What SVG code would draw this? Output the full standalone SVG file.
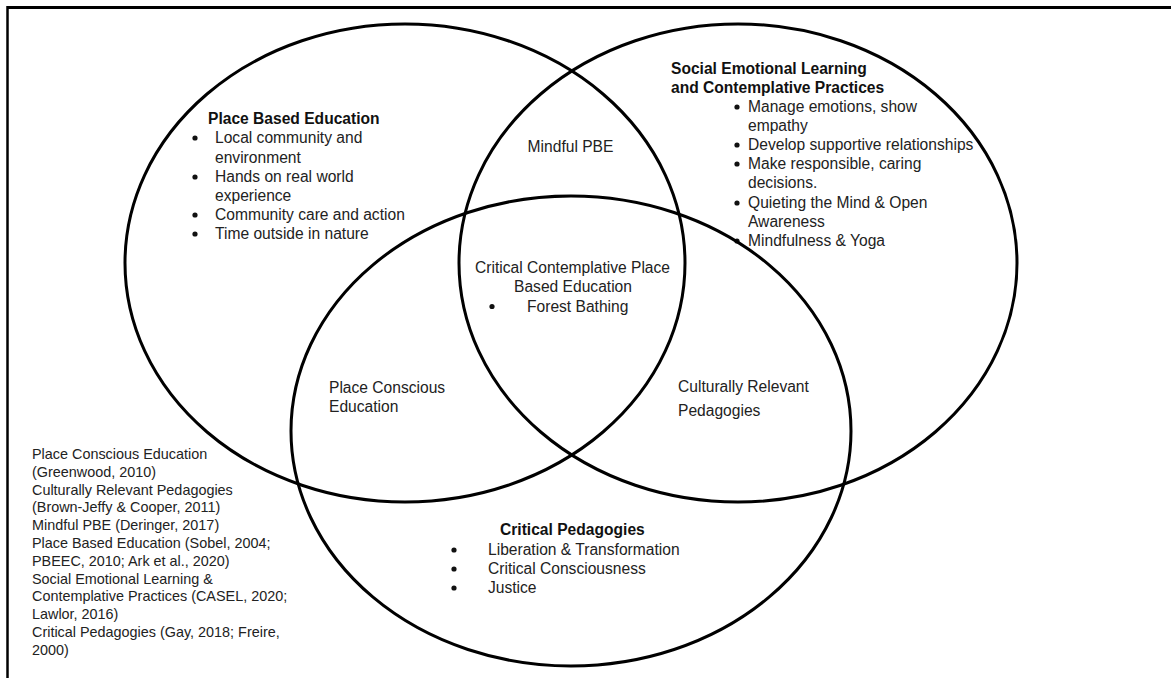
<svg xmlns="http://www.w3.org/2000/svg" width="1171" height="678" viewBox="0 0 1171 678">
<style>
.e{fill:none;stroke:#000;stroke-width:3}
.t{font-family:"Liberation Sans",Arial,sans-serif;font-size:15.6px;fill:#222}
.b{font-weight:bold;fill:#111}
.r{font-family:"Liberation Sans",Arial,sans-serif;font-size:14.4px;fill:#222}
.d{fill:#111}
</style>
<rect width="1171" height="678" fill="#fff"/>
<g id="frame">
<line x1="7" y1="7.5" x2="1171" y2="7.5" stroke="#000" stroke-width="3"/>
<line x1="7.5" y1="6" x2="7.5" y2="678" stroke="#000" stroke-width="2.5"/>
</g>
<g id="connectors"></g>
<g id="place-based">
<ellipse class="e" cx="405" cy="263" rx="280" ry="239"/>
<text class="t b" x="208" y="124">Place Based Education</text>
<circle class="d" cx="195" cy="138" r="2.6"/>
<text class="t" x="215" y="143">Local community and</text>
<text class="t" x="215" y="162.5">environment</text>
<circle class="d" cx="195" cy="177" r="2.6"/>
<text class="t" x="215" y="181.5">Hands on real world</text>
<text class="t" x="215" y="200.5">experience</text>
<circle class="d" cx="195" cy="215" r="2.6"/>
<text class="t" x="215" y="220">Community care and action</text>
<circle class="d" cx="195" cy="234" r="2.6"/>
<text class="t" x="215" y="238.5">Time outside in nature</text>
</g>
<g id="sel">
<ellipse class="e" cx="738" cy="263" rx="279" ry="239"/>
<text class="t b" x="671" y="73.5">Social Emotional Learning</text>
<text class="t b" x="671" y="92.5">and Contemplative Practices</text>
<circle class="d" cx="737" cy="107" r="2.6"/>
<text class="t" x="748" y="111.5">Manage emotions, show</text>
<text class="t" x="748" y="130.5">empathy</text>
<circle class="d" cx="737" cy="145" r="2.6"/>
<text class="t" x="748" y="150">Develop supportive relationships</text>
<circle class="d" cx="737" cy="164" r="2.6"/>
<text class="t" x="748" y="169">Make responsible, caring</text>
<text class="t" x="748" y="188">decisions.</text>
<circle class="d" cx="737" cy="203" r="2.6"/>
<text class="t" x="748" y="207.5">Quieting the Mind &amp; Open</text>
<text class="t" x="748" y="226.5">Awareness</text>
<circle class="d" cx="737" cy="241" r="2.6"/>
<text class="t" x="748" y="245.5">Mindfulness &amp; Yoga</text>
</g>
<g id="critical">
<ellipse class="e" cx="571" cy="431" rx="280" ry="235"/>
<text class="t b" x="500" y="535">Critical Pedagogies</text>
<circle class="d" cx="454" cy="550" r="2.6"/>
<text class="t" x="488" y="554.5">Liberation &amp; Transformation</text>
<circle class="d" cx="454" cy="569" r="2.6"/>
<text class="t" x="488" y="573.5">Critical Consciousness</text>
<circle class="d" cx="454" cy="588" r="2.6"/>
<text class="t" x="488" y="593">Justice</text>
</g>
<g id="mindful-pbe">
<text class="t" x="570.5" y="152" text-anchor="middle">Mindful PBE</text>
</g>
<g id="center">
<text class="t" x="572.5" y="273" text-anchor="middle">Critical Contemplative Place</text>
<text class="t" x="573" y="292" text-anchor="middle">Based Education</text>
<circle class="d" cx="492" cy="306.5" r="2.6"/>
<text class="t" x="527" y="311.5">Forest Bathing</text>
</g>
<g id="place-conscious">
<text class="t" x="329" y="393">Place Conscious</text>
<text class="t" x="329" y="412">Education</text>
</g>
<g id="culturally-relevant">
<text class="t" x="678" y="392">Culturally Relevant</text>
<text class="t" x="678" y="416">Pedagogies</text>
</g>
<g id="references">
<text class="r" x="32" y="459">Place Conscious Education</text>
<text class="r" x="32" y="476.8">(Greenwood, 2010)</text>
<text class="r" x="32" y="494.6">Culturally Relevant Pedagogies</text>
<text class="r" x="32" y="512.4">(Brown-Jeffy &amp; Cooper, 2011)</text>
<text class="r" x="32" y="530.2">Mindful PBE (Deringer, 2017)</text>
<text class="r" x="32" y="548">Place Based Education (Sobel, 2004;</text>
<text class="r" x="32" y="565.8">PBEEC, 2010; Ark et al., 2020)</text>
<text class="r" x="32" y="583.6">Social Emotional Learning &amp;</text>
<text class="r" x="32" y="601.4">Contemplative Practices (CASEL, 2020;</text>
<text class="r" x="32" y="619.2">Lawlor, 2016)</text>
<text class="r" x="32" y="637">Critical Pedagogies (Gay, 2018; Freire,</text>
<text class="r" x="32" y="654.8">2000)</text>
</g>
</svg>
